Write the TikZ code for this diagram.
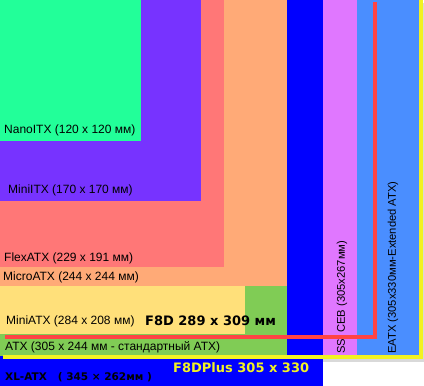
\documentclass[tikz,border=0pt]{standalone}
\usepackage{fontspec}
\setmainfont{Liberation Sans}
\newfontfamily\dejavu{DejaVu Sans}
\definecolor{nanoitx}{HTML}{22FF99}
\definecolor{miniitx}{HTML}{7733FF}
\definecolor{flexatx}{HTML}{FF7777}
\definecolor{microatx}{HTML}{FFAA77}
\definecolor{miniatx}{HTML}{FFE07A}
\definecolor{atx}{HTML}{80CC55}
\definecolor{xlatx}{HTML}{0000FF}
\definecolor{ssiceb}{HTML}{E077FF}
\definecolor{eatx}{HTML}{4A8EFF}
\definecolor{f8dred}{HTML}{FF4444}
\definecolor{f8dyellow}{HTML}{F2F222}

\begin{document}
\begin{tikzpicture}[x=1pt,y=-1pt,
  size label/.style={anchor=west,inner sep=0pt,font=\fontsize{12}{14}\selectfont},
  side label/.style={rotate=90,anchor=west,inner sep=0pt,font=\fontsize{11.2}{13}\selectfont},
  big label/.style={anchor=west,inner sep=0pt,font=\dejavu\bfseries\fontsize{12}{14}\selectfont},
  board line/.style={line width=3.2pt}]
  \useasboundingbox (0,0) rectangle (424,386);

  % boards, largest first
  \fill[black,opacity=.15] (323,357) rectangle (424,362);
  \fill[black,opacity=.15] (421,3) rectangle (424,357);
  \fill[eatx] (0,0) rectangle (419,357);
  \fill[ssiceb] (0,0) rectangle (357,357);
  \fill[xlatx] (0,0) rectangle (323,386);
  \fill[atx] (0,0) rectangle (287,356);
  \fill[miniatx] (0,0) rectangle (245,334);
  \fill[microatx] (0,0) rectangle (287,286);
  \fill[flexatx] (0,0) rectangle (224,267);
  \fill[miniitx] (0,0) rectangle (201,201);
  \fill[nanoitx] (0,0) rectangle (141,141);

  % labels
  \node[size label] (nano) at (4,130) {NanoITX (120 x 120 мм)};
  \node[size label] (mini) at (8,190) {MiniITX (170 x 170 мм)};
  \node[size label] (flex) at (4,258) {FlexATX (229 x 191 мм)};
  \node[size label] (micro) at (3,277) {MicroATX (244 x 244 мм)};
  \node[size label] (miniatx) at (6,321) {MiniATX (284 x 208 мм)};
  \node[size label] (atx) at (5,347) {ATX (305 x 244 мм - стандартный ATX)};
  \node[big label,font=\dejavu\bfseries\fontsize{10.5}{13}\selectfont] (xl) at (5,377) {XL-ATX\ \ \ ( 345 × 262мм )};
  \node[big label,font=\dejavu\bfseries\fontsize{13}{15}\selectfont] (f8d) at (145,321) {F8D 289 x 309 мм};
  \node[big label,font=\dejavu\bfseries\fontsize{13}{15}\selectfont,text=f8dyellow] (f8dplus) at (173,368) {F8DPlus 305 x 330};
  \node[side label] (ssi) at (342,354) {SSI CEB (305x267мм)};
  \node[side label] (eatx) at (393,354) {EATX (305x330мм-Extended ATX)};

  % F8D and F8DPlus outlines
  \coordinate (r0) at (375,2);
  \coordinate (r1) at (375,337);
  \coordinate (r2) at (5,337);
  \coordinate (y0) at (421,0);
  \coordinate (y1) at (421,357);
  \coordinate (y2) at (3,357);
  \draw[board line,f8dred] (r0) -- (r1) -- (r2);
  \draw[board line,f8dyellow] (y0) -- (y1) -- (y2);
\end{tikzpicture}
\end{document}
